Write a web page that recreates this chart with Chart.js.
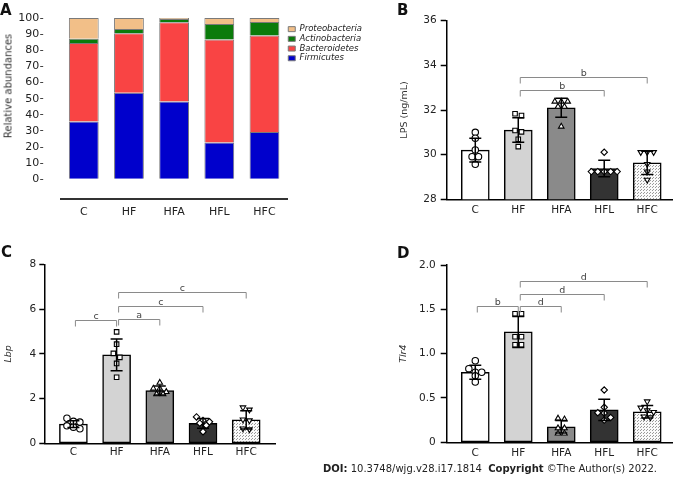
<!DOCTYPE html>
<html>
<head>
<meta charset="utf-8">
<script src="https://cdn.jsdelivr.net/npm/chart.js@4.4.0/dist/chart.umd.min.js"></script>
<style>
  body { margin: 0; background: #fff; width: 678px; height: 477px; overflow: hidden; position: relative; font-family: "DejaVu Sans", sans-serif; color: #222; }
  canvas { position: absolute; }
  .tag { position: absolute; font-weight: bold; font-size: 15px; line-height: 15px; color: #111; }
  .ytitle { position: absolute; font-size: 10px; white-space: nowrap; transform: translate(-50%, -50%) rotate(-90deg); color: #333; }
  .foot { position: absolute; font-size: 10px; line-height: 12px; white-space: nowrap; color: #222; }
</style>
</head>
<body>
<canvas id="chart-a" width="372" height="225" style="left:0;top:0"></canvas>
<canvas id="chart-b" width="293" height="225" style="left:380px;top:0"></canvas>
<canvas id="chart-c" width="276" height="228" style="left:0;top:240px"></canvas>
<canvas id="chart-d" width="293" height="228" style="left:380px;top:240px"></canvas>

<div class="tag" style="left:0;top:3px">A</div>
<div class="tag" style="left:397px;top:3px">B</div>
<div class="tag" style="left:1px;top:245px">C</div>
<div class="tag" style="left:397px;top:246px">D</div>
<div class="ytitle" style="left:8px;top:86px">Relative abundances</div>
<div class="foot" style="left:323px;top:463px"><b>DOI:</b> 10.3748/wjg.v28.i17.1814&nbsp;&nbsp;<b>Copyright</b> ©The Author(s) 2022.</div>

<script>
// 分组
const groups = ['C', 'HF', 'HFA', 'HFL', 'HFC'];

// A: 门水平相对丰度 (%)
const phyla = ['Firmicutes', 'Bacteroidetes', 'Actinobacteria', 'Proteobacteria'];
const firmicutes = [35.8, 53.6, 48.2, 22.8, 29.4];
const bacteroidetes = [48.7, 36.9, 49.1, 63.9, 59.8];
const actinobacteria = [2.7, 2.7, 2.1, 9.6, 8.3];
const proteobacteria = [12.8, 6.8, 0.6, 3.7, 2.5];
const abundanceTicks = [0, 10, 20, 30, 40, 50, 60, 70, 80, 90, 100];

// B: LPS (ng/mL)
const lpsMean = [30.2, 31.1, 32.1, 29.38, 29.63];
const lpsSd = [0.53, 0.55, 0.43, 0.37, 0.52];
const lpsPoints = [
    [31.0, 30.74, 30.21, 29.91, 29.91, 29.57],
    [31.83, 31.75, 31.08, 31.02, 30.69, 30.36],
    [32.38, 32.38, 32.38, 32.15, 32.15, 31.26],
    [30.11, 29.24, 29.24, 29.24, 29.24, 29.24],
    [30.11, 30.11, 30.11, 29.58, 29.24, 28.87]
];
const lpsTicks = [28, 30, 32, 34, 36];
const lpsTickLabels = ['28', '30', '32', '34', '36'];
const lpsBrackets = [[1, 4, 33.48, 'b'], [1, 3, 32.9, 'b']];

// C: Lbp
const lbpMean = [0.86, 3.95, 2.36, 0.89, 1.05];
const lbpSd = [0.15, 0.71, 0.2, 0.22, 0.41];
const lbpPoints = [
    [1.12, 0.98, 0.95, 0.78, 0.72, 0.65],
    [4.98, 4.43, 4.02, 3.84, 3.57, 2.95],
    [2.71, 2.45, 2.45, 2.30, 2.20, 2.20],
    [1.18, 1.02, 0.96, 0.9, 0.8, 0.52],
    [1.6, 1.5, 1.06, 1.02, 0.66, 0.62]
];
const lbpTicks = [0, 2, 4, 6, 8];
const lbpTickLabels = ['0', '2', '4', '6', '8'];
const lbpBrackets = [[1, 4, 6.74, 'c'], [1, 3, 6.13, 'c'], [0, 1, 5.5, 'c'], [1, 2, 5.54, 'a']];

// D: Tlr4
const tlr4Mean = [0.79, 1.245, 0.175, 0.365, 0.345];
const tlr4Sd = [0.08, 0.175, 0.07, 0.12, 0.07];
const tlr4Points = [
    [0.92, 0.83, 0.79, 0.79, 0.75, 0.68],
    [1.45, 1.45, 1.19, 1.19, 1.10, 1.10],
    [0.27, 0.26, 0.16, 0.16, 0.10, 0.10],
    [0.59, 0.395, 0.334, 0.33, 0.28, 0.25],
    [0.46, 0.39, 0.36, 0.34, 0.29, 0.28]
];
const tlr4Ticks = [0, 0.5, 1, 1.5, 2];
const tlr4TickLabels = ['0', '0.5', '1.0', '1.5', '2.0'];
const tlr4Brackets = [[1, 4, 1.82, 'd'], [1, 3, 1.67, 'd'], [0, 1, 1.537, 'b'], [1, 2, 1.54, 'd']];

Chart.defaults.font.family = "'DejaVu Sans', sans-serif";
Chart.defaults.color = '#222';

// HFC 点状填充
function dotPattern() {
    const c = document.createElement('canvas');
    c.width = 3; c.height = 3;
    const g = c.getContext('2d');
    g.fillStyle = '#fafafa';
    g.fillRect(0, 0, 3, 3);
    g.fillStyle = '#9a9a9a';
    g.fillRect(0, 0, 1, 1);
    g.fillRect(2, 1, 1, 1);
    return g.createPattern(c, 'repeat');
}

const barFills = ['#ffffff', '#d3d3d3', '#8a8a8a', '#333333', dotPattern()];
const markerStyles = ['circle', 'rect', 'triangle', 'rectRot', 'triangle'];
const markerRotation = [0, 0, 0, 0, 180];

// 相近数值的点横向排开
function spreadOffsets(values, tol, step) {
    const order = values.map((v, k) => k).sort((a, b) => values[b] - values[a]);
    const offsets = new Array(values.length).fill(0);
    let row = [];
    const flush = () => {
        row.forEach((k, j) => { offsets[k] = (j - (row.length - 1) / 2) * step; });
        row = [];
    };
    order.forEach(k => {
        if (row.length && values[row[0]] - values[k] >= tol) flush();
        row.push(k);
    });
    flush();
    return offsets;
}

// 误差线 + 显著性括号
const annotatePlugin = {
    id: 'annotate',
    afterDatasetsDraw(chart, args, opts) {
        const { ctx } = chart;
        const x = chart.scales.x, y = chart.scales.y;
        ctx.save();
        ctx.strokeStyle = '#000';
        ctx.lineWidth = 1.5;
        opts.means.forEach((m, i) => {
            const cx = x.getPixelForValue(i);
            const top = y.getPixelForValue(m + opts.sd[i]);
            const bot = y.getPixelForValue(m - opts.sd[i]);
            ctx.beginPath();
            ctx.moveTo(cx, top); ctx.lineTo(cx, bot);
            ctx.moveTo(cx - 6, top); ctx.lineTo(cx + 6, top);
            ctx.moveTo(cx - 6, bot); ctx.lineTo(cx + 6, bot);
            ctx.stroke();
        });
        ctx.strokeStyle = '#8a8a8a';
        ctx.lineWidth = 1;
        ctx.fillStyle = '#444';
        ctx.font = "9.5px 'DejaVu Sans'";
        ctx.textAlign = 'center';
        ctx.textBaseline = 'alphabetic';
        opts.brackets.forEach(b => {
            const x1 = x.getPixelForValue(b[0]) + 2;
            const x2 = x.getPixelForValue(b[1]);
            const by = Math.round(y.getPixelForValue(b[2])) + 0.5;
            ctx.beginPath();
            ctx.moveTo(x1, by + 6); ctx.lineTo(x1, by); ctx.lineTo(x2, by); ctx.lineTo(x2, by + 6);
            ctx.stroke();
            ctx.fillText(b[3], (x1 + x2) / 2, by - 1.5);
        });
        ctx.restore();
    }
};

// 柱状图 + 散点
function createDotBarChart(canvasId, cfg) {
    const tol = (cfg.yMax - cfg.yMin) * 5 / 179;
    const pts = [], styles = [], rots = [];
    cfg.points.forEach((vals, i) => {
        const off = spreadOffsets(vals, tol, 0.15);
        vals.forEach((v, k) => {
            pts.push({ x: i + off[k], y: v });
            styles.push(markerStyles[i]);
            rots.push(markerRotation[i]);
        });
    });

    return new Chart(document.getElementById(canvasId), {
        type: 'bar',
        data: {
            datasets: [{
                type: 'scatter',
                data: pts,
                order: 1,
                pointStyle: styles,
                rotation: rots,
                pointRadius: 3.2,
                pointBackgroundColor: '#fff',
                pointBorderColor: '#000',
                pointBorderWidth: 1.1
            }, {
                type: 'bar',
                data: cfg.means.map((m, i) => ({ x: i, y: m })),
                order: 2,
                barThickness: 28,
                backgroundColor: barFills,
                borderColor: '#000',
                borderWidth: 1.5,
                borderSkipped: false
            }]
        },
        options: {
            responsive: false,
            animation: false,
            layout: { autoPadding: false, padding: { top: cfg.padTop, left: 0, right: 0, bottom: 0 } },
            plugins: {
                legend: { display: false },
                tooltip: { enabled: false },
                annotate: { means: cfg.means, sd: cfg.sd, brackets: cfg.brackets }
            },
            scales: {
                x: {
                    type: 'linear',
                    offset: false,
                    min: cfg.xMin,
                    max: cfg.xMax,
                    afterBuildTicks: ax => { ax.ticks = groups.map((g, i) => ({ value: i })); },
                    ticks: { callback: (v, i) => groups[i], padding: cfg.xPad, font: { size: 10.5 }, maxRotation: 0 },
                    grid: { display: false, drawTicks: false, offset: false },
                    border: { display: true, color: '#000', width: 1.5 },
                    afterFit: s => { s.height = cfg.xHeight; }
                },
                y: {
                    min: cfg.yMin,
                    max: cfg.yMax,
                    afterBuildTicks: ax => { ax.ticks = cfg.ticks.map(v => ({ value: v })); },
                    ticks: { callback: (v, i) => cfg.tickLabels[i], padding: cfg.tickPad, font: { size: 10.5 } },
                    grid: { drawOnChartArea: false, tickLength: cfg.tickLen, tickColor: '#000', tickWidth: 1.5 },
                    border: { display: true, color: '#000', width: 1.5 },
                    title: {
                        display: true,
                        text: cfg.title,
                        font: { size: 9.5, style: cfg.italic ? 'italic' : 'normal' },
                        color: '#333',
                        padding: { top: cfg.titlePad, bottom: 0 }
                    },
                    afterFit: s => { s.width = cfg.yWidth; }
                }
            }
        },
        plugins: [annotatePlugin]
    });
}

// A: 堆积柱状图
const phylumSeries = [firmicutes, bacteroidetes, actinobacteria, proteobacteria];
const phylumColors = ['#0000cc', '#f94444', '#0b7b0b', '#f2bf88'];
window.chartA = new Chart(document.getElementById('chart-a'), {
    type: 'bar',
    data: {
        labels: groups,
        datasets: phyla.map((name, k) => ({
            label: name,
            data: phylumSeries[k],
            backgroundColor: phylumColors[k],
            borderColor: '#7a7a7a',
            borderWidth: 1,
            barPercentage: 0.66,
            categoryPercentage: 1
        }))
    },
    options: {
        responsive: false,
        animation: false,
        layout: { padding: { top: 18, left: 0, right: 0, bottom: 0 } },
        plugins: {
            tooltip: { enabled: false },
            legend: {
                position: 'right',
                align: 'start',
                reverse: true,
                title: { display: true, text: '', padding: { top: 4.5, bottom: 0 }, font: { size: 1 } },
                labels: {
                    boxWidth: 7,
                    boxHeight: 5,
                    padding: 1.2,
                    color: '#222',
                    font: { size: 8.5, style: 'italic' }
                }
            }
        },
        scales: {
            x: {
                stacked: true,
                grid: { display: false, drawTicks: false },
                border: { display: true, color: '#333', width: 2 },
                ticks: { padding: 6, font: { size: 11 }, color: '#222' },
                afterFit: s => { s.height = 25.7; }
            },
            y: {
                stacked: true,
                min: -12.4,
                max: 100,
                afterBuildTicks: ax => { ax.ticks = abundanceTicks.map(v => ({ value: v })); },
                ticks: { padding: 1, font: { size: 11 }, color: '#222' },
                grid: { drawOnChartArea: false, tickLength: 21, tickBorderDash: [3, 40], tickColor: '#444', tickWidth: 1 },
                border: { display: false },
                afterFit: s => { s.width = 61.2; }
            }
        }
    }
});

window.chartB = createDotBarChart('chart-b', {
    means: lpsMean, sd: lpsSd, points: lpsPoints, brackets: lpsBrackets,
    ticks: lpsTicks, tickLabels: lpsTickLabels, yMin: 28, yMax: 36,
    title: 'LPS (ng/mL)', italic: false, titlePad: 19.3,
    xMin: -0.665, xMax: 4.6, yWidth: 66.7, padTop: 20.7, xHeight: 25.7,
    tickLen: 6, tickPad: 4, xPad: 5
});

window.chartC = createDotBarChart('chart-c', {
    means: lbpMean, sd: lbpSd, points: lbpPoints, brackets: lbpBrackets,
    ticks: lbpTicks, tickLabels: lbpTickLabels, yMin: 0, yMax: 8,
    title: 'Lbp', italic: true, titlePad: 3.3,
    xMin: -0.674, xMax: 4.69, yWidth: 44.3, padTop: 24.3, xHeight: 24.7,
    tickLen: 5, tickPad: 3, xPad: 3
});

window.chartD = createDotBarChart('chart-d', {
    means: tlr4Mean, sd: tlr4Sd, points: tlr4Points, brackets: tlr4Brackets,
    ticks: tlr4Ticks, tickLabels: tlr4TickLabels, yMin: 0, yMax: 2,
    title: 'Tlr4', italic: true, titlePad: 17.8,
    xMin: -0.665, xMax: 4.6, yWidth: 66.7, padTop: 25, xHeight: 25.7,
    tickLen: 6, tickPad: 5, xPad: 5
});
</script>
</body>
</html>
